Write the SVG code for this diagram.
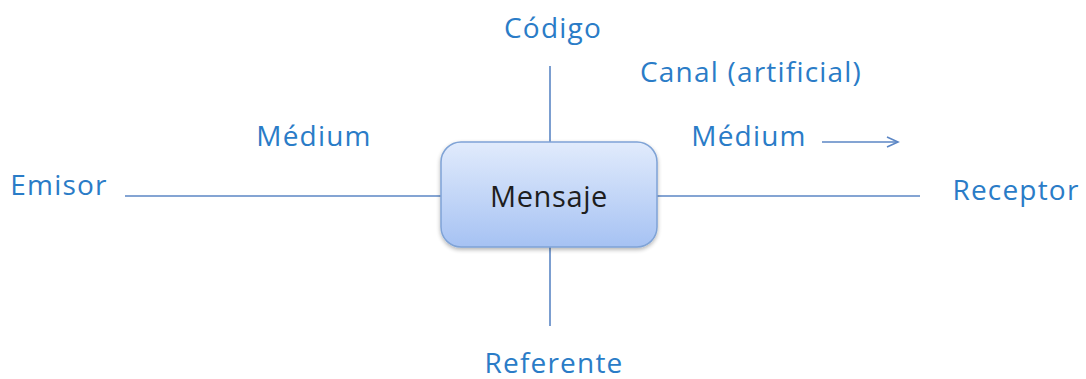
<svg xmlns="http://www.w3.org/2000/svg" width="1086" height="379" viewBox="0 0 1086 379">
<style>
.lbl{font-family:"Open Sans","Liberation Sans",sans-serif;font-size:28px;letter-spacing:1.2px;fill:#2a7cc7;text-anchor:middle}
.ln{stroke:#5b86c5;stroke-width:1.6;fill:none}
</style>
<defs>
<linearGradient id="g" x1="0" y1="0" x2="0" y2="1">
<stop offset="0" stop-color="#e1ebfc"/>
<stop offset="1" stop-color="#a6c2f3"/>
</linearGradient>
<filter id="sh" x="-10%" y="-10%" width="120%" height="130%">
<feGaussianBlur in="SourceAlpha" stdDeviation="2"/>
<feOffset dy="2"/>
<feComponentTransfer><feFuncA type="linear" slope="0.3"/></feComponentTransfer>
<feMerge><feMergeNode/><feMergeNode in="SourceGraphic"/></feMerge>
</filter>
<marker id="ar" markerWidth="14" markerHeight="12" refX="12" refY="6" orient="auto" markerUnits="userSpaceOnUse">
<path d="M1,1 L12,6 L1,11" fill="none" stroke="#5b86c5" stroke-width="1.6"/>
</marker>
</defs>
<g id="connectors">
<line class="ln" x1="125" y1="196" x2="441" y2="196"/>
<line class="ln" x1="657" y1="196" x2="920" y2="196"/>
<line class="ln" x1="550" y1="66" x2="550" y2="142"/>
<line class="ln" x1="550" y1="247" x2="550" y2="326"/>
<line class="ln" x1="822" y1="142" x2="898" y2="142" marker-end="url(#ar)"/>
</g>
<g id="mensaje">
<rect x="441" y="142" width="216" height="105" rx="20" fill="url(#g)" stroke="#7fa3d6" stroke-width="1.5" filter="url(#sh)"/>
<text x="549" y="207" style="font-family:'Open Sans','Liberation Sans',sans-serif;font-size:29px;letter-spacing:0.6px;fill:#1e1e1e;text-anchor:middle">Mensaje</text>
</g>
<g id="codigo"><text class="lbl" x="553" y="38">Código</text></g>
<g id="canal"><text class="lbl" x="751" y="82">Canal (artificial)</text></g>
<g id="medium-left"><text class="lbl" x="314" y="146">Médium</text></g>
<g id="medium-right"><text class="lbl" x="749" y="146">Médium</text></g>
<g id="emisor"><text class="lbl" x="59" y="195">Emisor</text></g>
<g id="receptor"><text class="lbl" x="1016" y="200">Receptor</text></g>
<g id="referente"><text class="lbl" x="554" y="373">Referente</text></g>
</svg>
